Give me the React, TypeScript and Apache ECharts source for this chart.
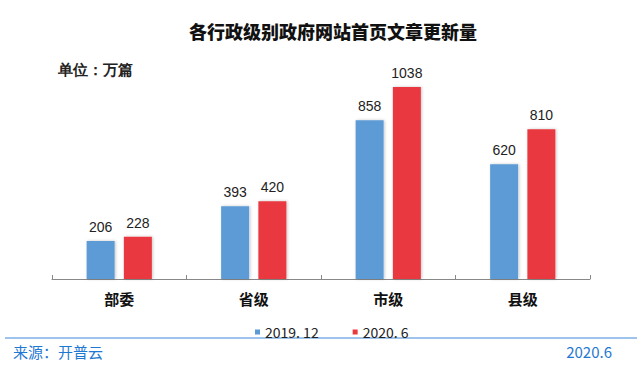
import React, { useEffect, useRef } from "react";
import * as echarts from "echarts";

const categories = ["部委", "省级", "市级", "县级"];
const series2019 = [206, 393, 858, 620];
const series2020 = [228, 420, 1038, 810];
const seriesNames = ["2019. 12", "2020. 6"];
const titleText = "各行政级别政府网站首页文章更新量";
const unitText = "单位：万篇";
const sourceText = "来源：开普云";
const dateText = "2020.6";

const CJK = "'Noto Sans CJK SC', 'Noto Sans', sans-serif";
const LAT = "'Liberation Sans', Arial, sans-serif";

export default function App() {
  const ref = useRef<HTMLDivElement>(null);
  useEffect(() => {
    if (!ref.current) return;
    const chart = echarts.init(ref.current, undefined, { renderer: "svg" });
    const barStyle = (color: string) => ({
      color,
      shadowColor: "rgba(0,0,0,0.22)",
      shadowBlur: 3,
      shadowOffsetX: 1,
      shadowOffsetY: 0,
    });
    const label = {
      show: true,
      position: "top",
      distance: 7,
      fontSize: 14,
      color: "#222",
      fontFamily: LAT,
    };
    chart.setOption({
      animation: false,
      backgroundColor: "#fff",
      title: {
        text: titleText,
        left: 328,
        textAlign: "center",
        top: 17,
        textStyle: { fontSize: 18, fontWeight: 900, color: "#111", fontFamily: CJK },
      },
      legend: {
        data: seriesNames,
        left: 250,
        top: 320,
        icon: "rect",
        itemWidth: 5,
        itemHeight: 5,
        itemGap: 34,
        textStyle: { fontSize: 14, color: "#222", fontFamily: CJK },
      },
      grid: { left: 52, right: 51, top: 57, bottom: 89 },
      xAxis: {
        type: "category",
        data: categories,
        axisLine: { lineStyle: { color: "#888", width: 1 } },
        axisTick: { show: true, inside: true, length: 4, lineStyle: { color: "#888" } },
        axisLabel: { fontSize: 15, fontWeight: "bold", color: "#111", margin: 12, fontFamily: CJK },
      },
      yAxis: {
        type: "value",
        min: 0,
        max: 1200,
        show: false,
        splitLine: { show: false },
      },
      series: [
        {
          name: seriesNames[0],
          type: "bar",
          data: series2019,
          barWidth: 28,
          barGap: "33%",
          itemStyle: barStyle("#5b9bd5"),
          label,
        },
        {
          name: seriesNames[1],
          type: "bar",
          data: series2020,
          barWidth: 28,
          itemStyle: barStyle("#e9393f"),
          label,
        },
      ],
      graphic: [
        {
          type: "text",
          left: 58,
          top: 62,
          style: { text: unitText, fontSize: 15, fontWeight: "bold", fill: "#222", font: `bold 15px ${CJK}` },
        },
        {
          type: "line",
          shape: { x1: 5, y1: 338, x2: 637, y2: 338 },
          style: { stroke: "#9ec4ee", lineWidth: 2 },
        },
        {
          type: "text",
          left: 13,
          top: 344,
          style: { text: sourceText, fill: "#1f78d1", font: `15px ${CJK}` },
        },
        {
          type: "text",
          right: 29,
          top: 344,
          style: { text: dateText, fill: "#1f78d1", font: `15px ${CJK}` },
        },
      ],
    });
    return () => chart.dispose();
  }, []);
  return (
    <div
      ref={ref}
      style={{ position: "fixed", left: 0, top: 0, width: 641, height: 368 }}
    />
  );
}
